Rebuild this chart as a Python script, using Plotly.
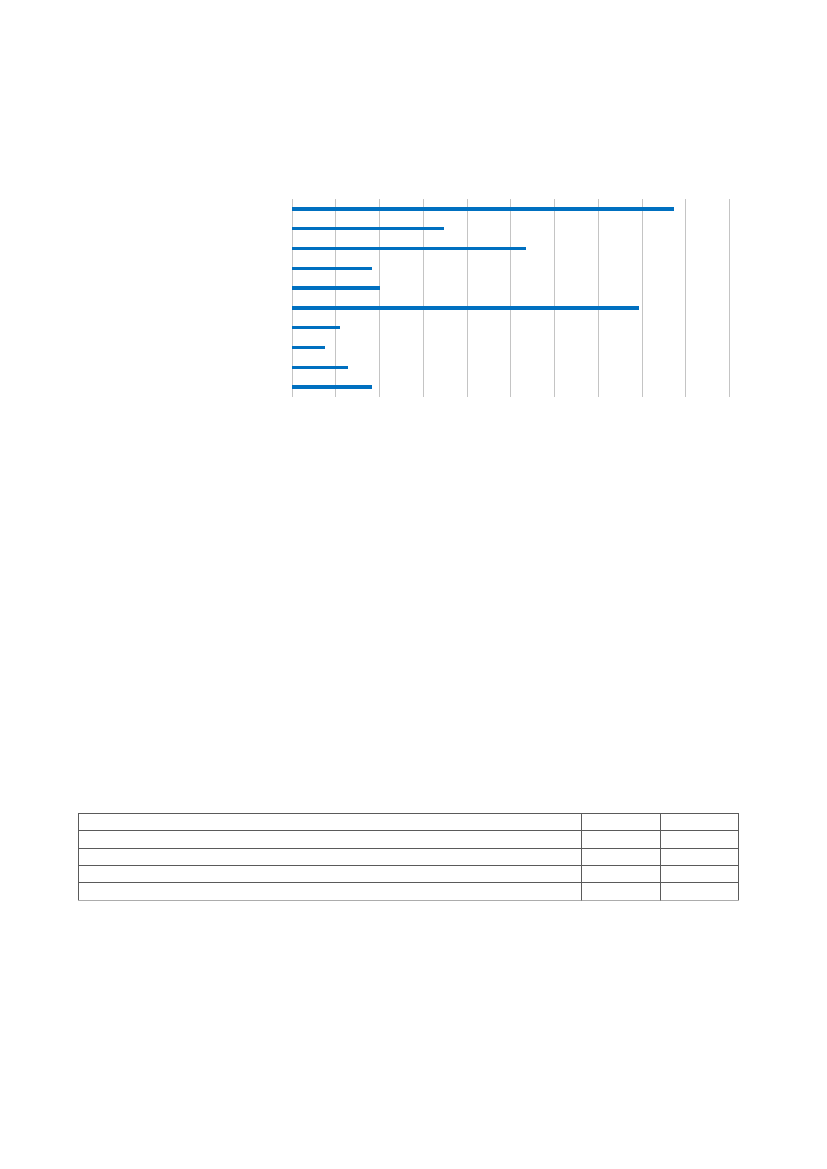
import plotly.graph_objects as go

# Data (axis 0..10, one gridline per unit)
categories = ["C1", "C2", "C3", "C4", "C5", "C6", "C7", "C8", "C9", "C10"]
values = [8.72, 3.47, 5.35, 1.82, 2.0, 7.92, 1.09, 0.75, 1.26, 1.82]

# Empty table (no visible text in the reference)
table_columns = ["", "", ""]
table_rows = [["", "", "", ""], ["", "", "", ""], ["", "", "", ""]]

W, H = 827, 1169
OX, OY = 8, 8  # page body offset
UNIT = 43.75   # px per axis unit
PAD = 0.1      # extra axis range so edge gridlines get drawn

x0 = 292 - OX - PAD * UNIT
x1 = 729.5 - OX + PAD * UNIT

fig = go.Figure()
fig.add_trace(go.Bar(
    y=categories, x=values, orientation="h",
    marker=dict(color="#0070C0", line=dict(width=0)),
    width=0.17, showlegend=False, hoverinfo="skip",
))

fig.add_trace(go.Table(
    domain=dict(x=[(78 - OX) / W, (738 - OX) / W],
                y=[1 - (901 - OY) / H, 1 - (813.5 - OY) / H]),
    columnwidth=[503, 79, 78],
    header=dict(values=table_columns, height=17.3,
                line=dict(color="#5a5a5a", width=1),
                fill=dict(color="white"), font=dict(size=8)),
    cells=dict(values=table_rows, height=17.3,
               line=dict(color="#5a5a5a", width=1),
               fill=dict(color="white"), font=dict(size=8)),
))

fig.update_layout(
    width=W, height=H,
    margin=dict(l=0, r=0, t=0, b=0),
    paper_bgcolor="white", plot_bgcolor="white",
    bargap=0,
    xaxis=dict(domain=[x0 / W, x1 / W], range=[-PAD, 10 + PAD], dtick=1,
               tick0=0,
               showgrid=True, gridcolor="#c4c4c4", gridwidth=1,
               zeroline=False, showline=False, showticklabels=False,
               ticks="", fixedrange=True),
    yaxis=dict(domain=[1 - (397 - OY) / H, 1 - (199 - OY) / H], autorange="reversed",
               showgrid=False, zeroline=False, showline=False,
               showticklabels=False, ticks="", fixedrange=True),
)

fig.write_html("out.html")
